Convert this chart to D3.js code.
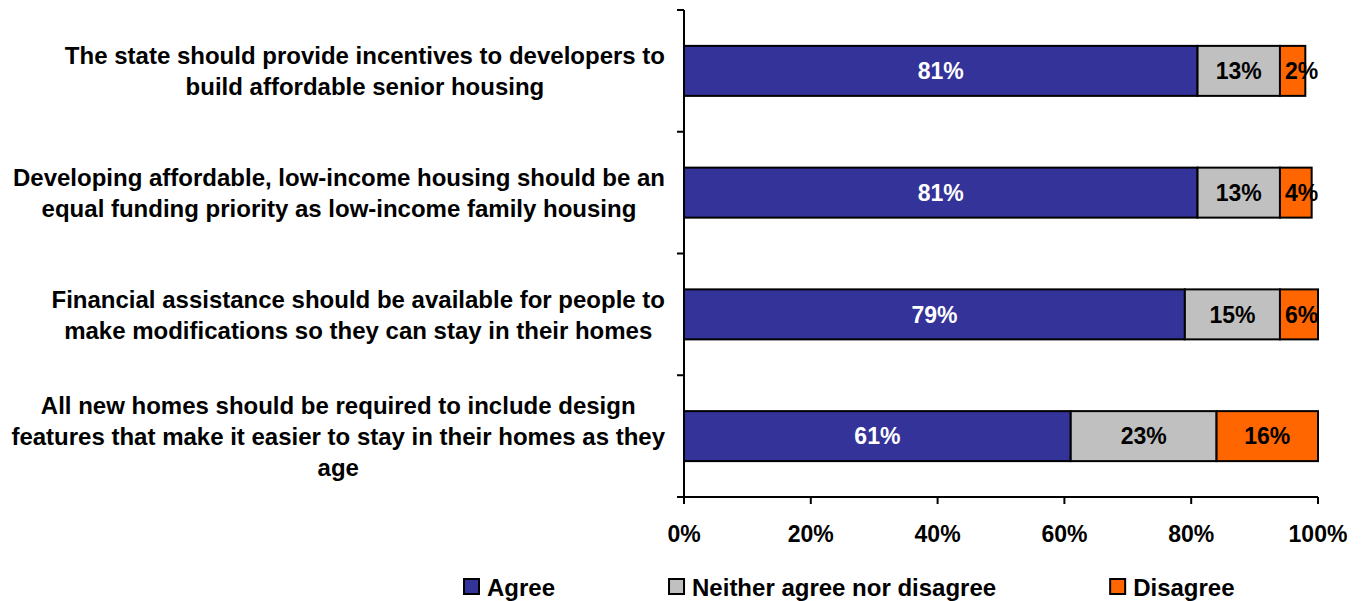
<!DOCTYPE html>
<html>
<head>
<meta charset="utf-8">
<script src="https://cdn.jsdelivr.net/npm/d3@7"></script>
<style>
  html, body { margin: 0; padding: 0; background: #ffffff; }
  svg { display: block; font-family: "Liberation Sans", Arial, Helvetica, sans-serif; font-weight: bold; }
</style>
</head>
<body>
<svg id="chart" width="1364" height="601"></svg>
<script>
// ---- data ----
const categories = [
  "The state should provide incentives to developers to\nbuild affordable senior housing",
  "Developing affordable, low-income housing should be an\nequal funding priority as low-income family housing",
  "Financial assistance should be available for people to\nmake modifications so they can stay in their homes",
  "All new homes should be required to include design\nfeatures that make it easier to stay in their homes as they\nage"
];
const seriesNames = ["Agree", "Neither agree nor disagree", "Disagree"];
const agree    = [81, 81, 79, 61];
const neither  = [13, 13, 15, 23];
const disagree = [4, 5, 6, 16];            // bar lengths as drawn
const agreeLabels    = ["81%", "81%", "79%", "61%"];
const neitherLabels  = ["13%", "13%", "15%", "23%"];
const disagreeLabels = ["2%", "4%", "6%", "16%"];
const xTicks = [0, 20, 40, 60, 80, 100];
const colors = ["#333399", "#C0C0C0", "#FF6600"];
const labelColors = ["#ffffff", "#000000", "#000000"];

(function () {
// ---- layout ----
const svg = d3.select("#chart");
const mLeft = 684, mRight = 1318, mTop = 10, mBottom = 497;
const barH = 50;

const x = d3.scaleLinear().domain([0, 100]).range([mLeft, mRight]);
const y = d3.scaleBand().domain(d3.range(categories.length)).range([mTop, mBottom]).padding(0);

const seriesVals = [agree, neither, disagree];
const seriesLabels = [agreeLabels, neitherLabels, disagreeLabels];

const stacked = seriesVals.map((vals, s) =>
  vals.map((v, i) => {
    let start = 0;
    for (let k = 0; k < s; k++) start += seriesVals[k][i];
    return { s, i, x0: start, x1: start + v, label: seriesLabels[s][i] };
  })
);

const gBars = svg.append("g");
stacked.forEach((ser, s) => {
  gBars.selectAll(null).data(ser).enter().append("rect")
    .attr("x", d => x(d.x0))
    .attr("y", d => y(d.i) + (y.bandwidth() - barH) / 2)
    .attr("width", d => x(d.x1) - x(d.x0))
    .attr("height", barH)
    .attr("fill", colors[s])
    .attr("stroke", "#000")
    .attr("stroke-width", 2);
});

stacked.forEach((ser, s) => {
  ser.forEach(d => {
    const t = svg.append("text")
      .attr("y", y(d.i) + y.bandwidth() / 2)
      .attr("dy", "0.36em")
      .attr("text-anchor", "middle")
      .attr("font-size", 23)
      .attr("fill", labelColors[s])
      .text(d.label);
    const w = t.node().getComputedTextLength();
    const segW = x(d.x1) - x(d.x0);
    let cx = (x(d.x0) + x(d.x1)) / 2;
    if (w + 6 > segW) cx = x(d.x0) + 5 + w / 2;
    t.attr("x", cx);
  });
});

// y axis
svg.append("line").attr("x1", mLeft).attr("x2", mLeft).attr("y1", mTop).attr("y2", mBottom)
  .attr("stroke", "#000").attr("stroke-width", 2);
const bounds = categories.map((c, i) => y(i)).concat([mBottom]);
svg.selectAll(null).data(bounds).enter().append("line")
  .attr("x1", mLeft - 7).attr("x2", mLeft).attr("y1", d => d).attr("y2", d => d)
  .attr("stroke", "#000").attr("stroke-width", 2);

// x axis
svg.append("line").attr("x1", mLeft).attr("x2", mRight).attr("y1", mBottom).attr("y2", mBottom)
  .attr("stroke", "#000").attr("stroke-width", 2);
svg.selectAll(null).data(xTicks).enter().append("line")
  .attr("x1", d => x(d)).attr("x2", d => x(d)).attr("y1", mBottom).attr("y2", mBottom + 7)
  .attr("stroke", "#000").attr("stroke-width", 2);
svg.selectAll(null).data(xTicks).enter().append("text")
  .attr("x", d => x(d)).attr("y", 542)
  .attr("text-anchor", "middle").attr("font-size", 23)
  .text(d => d + "%");

// category labels
const lineH = 31;
const labelRight = 665;
categories.forEach((c, i) => {
  const lines = c.split("\n");
  const g = svg.append("g");
  const cy = y(i) + y.bandwidth() / 2;
  const texts = lines.map((ln, k) => g.append("text")
    .attr("y", cy + (k - (lines.length - 1) / 2) * lineH)
    .attr("dy", "0.36em")
    .attr("text-anchor", "middle")
    .attr("font-size", 24)
    .text(ln));
  const maxW = d3.max(texts, t => t.node().getComputedTextLength());
  texts.forEach(t => t.attr("x", labelRight - maxW / 2));
});

// legend
let lx = 464;
const ly = 587;
seriesNames.forEach((name, s) => {
  svg.append("rect").attr("x", lx).attr("y", ly - 8).attr("width", 15).attr("height", 15)
    .attr("fill", colors[s]).attr("stroke", "#000").attr("stroke-width", 2);
  const t = svg.append("text").attr("x", lx + 23).attr("y", ly).attr("dy", "0.36em")
    .attr("font-size", 24).text(name);
  lx += 23 + t.node().getComputedTextLength() + 114;
});
})();
</script>
</body>
</html>
